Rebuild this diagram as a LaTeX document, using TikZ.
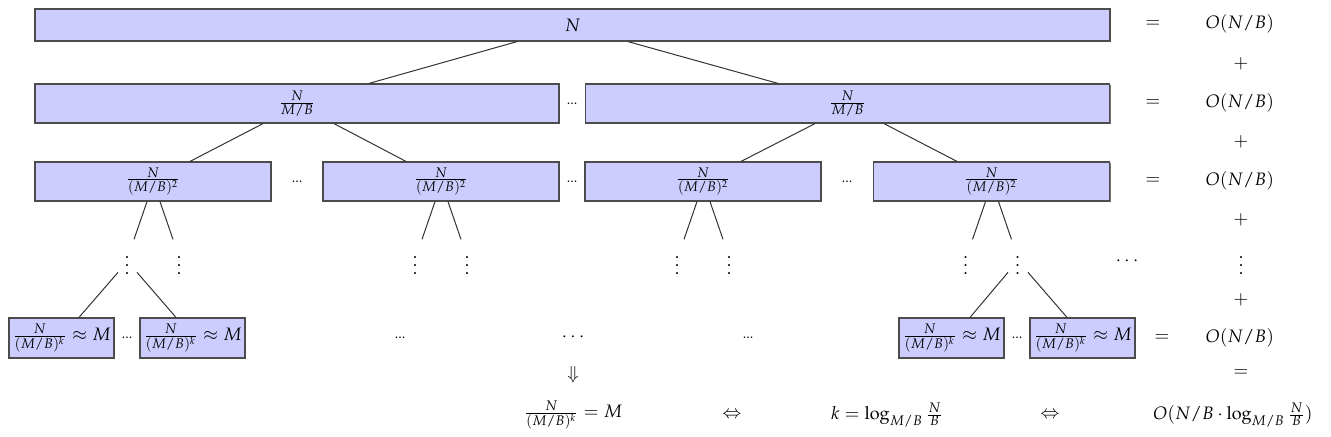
\documentclass[tikz,border=0pt]{standalone}
\usepackage[T1]{fontenc}
\usepackage{mathpazo}
\usepackage{tikz}
\usetikzlibrary{calc,shadows}

\begin{document}
\begin{tikzpicture}[x=0.5pt, y=-0.5pt,
  every node/.style={font=\fontsize{9}{11}\selectfont},
  box/.style={draw=black!70, fill=blue!20, line width=0.6pt, inner sep=0pt,
    drop shadow={shadow xshift=0.7pt, shadow yshift=-0.7pt, fill=black!55, opacity=1}},
  root/.style={box, minimum width=537.5pt, minimum height=16pt},
  mid/.style={box, minimum width=262pt, minimum height=19.5pt},
  sub/.style={box, minimum width=118pt, minimum height=19.5pt},
  leaf/.style={box, minimum width=52.5pt, minimum height=20pt},
  gap/.style={font=\scriptsize, inner sep=0pt},
  vd/.style={anchor=base, inner sep=0pt},
  edge/.style={draw=black!80, line width=0.5pt}]
\useasboundingbox (0,0) rectangle (1331,436);
% tree levels
\node[root] (top) at (572.5,25) {$N$};
\node[mid] (l1) at (297,103.5) {$\frac{N}{M/B}$};
\node[mid] (r1) at (847.5,103.5) {$\frac{N}{M/B}$};
\node[gap] (g0) at (572,103.5) {...};
\node[sub] (b1) at (153,181.5) {$\frac{N}{(M/B)^2}$};
\node[sub] (b2) at (441,181.5) {$\frac{N}{(M/B)^2}$};
\node[sub] (b3) at (703,181.5) {$\frac{N}{(M/B)^2}$};
\node[sub] (b4) at (991.5,181.5) {$\frac{N}{(M/B)^2}$};
\node[gap] (g1) at (297,181.5) {...};
\node[gap] (g2) at (572,181.5) {...};
\node[gap] (g3) at (847,181.5) {...};
\draw[edge] ($(top.south)+(-55.5,0)$) -- ($(l1.north)+(72,0)$);
\draw[edge] ($(top.south)+(55.5,0)$) -- ($(r1.north)+(-69.5,0)$);
\draw[edge] ($(l1.south)+(-34,0)$) -- ($(b1.north)+(37,0)$);
\draw[edge] ($(l1.south)+(37,0)$) -- ($(b2.north)+(-35,0)$);
\draw[edge] ($(r1.south)+(-32.5,0)$) -- ($(b3.north)+(38,0)$);
\draw[edge] ($(r1.south)+(36.5,0)$) -- ($(b4.north)+(-34.5,0)$);
\foreach \i in {1,...,4} {
  \node[vd] (dl\i) at ($(b\i.south)+(-26,72.75)$) {$\vdots$};
  \node[vd] (dr\i) at ($(b\i.south)+(26,72.75)$) {$\vdots$};
  \draw[edge] ($(b\i.south)+(-6,0)$) -- ($(dl\i.base)+(7,-35)$);
  \draw[edge] ($(b\i.south)+(7,0)$) -- ($(dr\i.base)+(-6,-35)$);
}
\node (cd1) at (1127,261) {$\cdots$};
% leaves
\node[leaf] (a1) at (61.5,338) {$\frac{N}{(M/B)^k}\approx M$};
\node[leaf] (a2) at (192.5,338) {$\frac{N}{(M/B)^k}\approx M$};
\node[leaf] (c1) at (951.5,338) {$\frac{N}{(M/B)^k}\approx M$};
\node[leaf] (c2) at (1082.5,338) {$\frac{N}{(M/B)^k}\approx M$};
\node[gap] (g4) at (127,338) {...};
\node[gap] (g5) at (1017,338) {...};
\node[gap] (g6) at (400,338) {...};
\node[gap] (g7) at (748,338) {...};
\node (cd2) at (573,337) {$\cdots$};
\draw[edge] ($(dl1.base)+(-9,-2)$) -- ($(a1.north)+(17.5,0)$);
\draw[edge] ($(dl1.base)+(10,-2)$) -- ($(a2.north)+(-16.5,0)$);
\draw[edge] ($(dr4.base)+(-9.5,-2)$) -- ($(c1.north)+(18.5,0)$);
\draw[edge] ($(dr4.base)+(10.5,-2)$) -- ($(c2.north)+(-15.5,0)$);
% cost column
\node (e0) at (1153,24) {$=$};
\node (e1) at (1153,103) {$=$};
\node (e2) at (1153,181) {$=$};
\node (e4) at (1162,338) {$=$};
\node (o0) at (1240,24) {$O(N/B)$};
\node (o1) at (1240,103) {$O(N/B)$};
\node (o2) at (1240,181) {$O(N/B)$};
\node (o4) at (1240,338) {$O(N/B)$};
\node (p0) at (1241,64) {$+$};
\node (p1) at (1241,142) {$+$};
\node (p2) at (1241,220) {$+$};
\node (p3) at (1241,300) {$+$};
\node[vd] (ov) at (1241,274) {$\vdots$};
\node (ot) at (1241,373) {$=$};
% conclusion
\node (dn) at (573,375) {$\Downarrow$};
\node (f1) at (573,415) {$\frac{N}{(M/B)^k} = M$};
\node (iff1) at (732,415) {$\Leftrightarrow$};
\node (f2) at (887,415) {$k = \log_{M/B}\frac{N}{B}$};
\node (iff2) at (1050,415) {$\Leftrightarrow$};
\node (f3) at (1233,415) {$O(N/B\cdot\log_{M/B}\frac{N}{B})$};
\end{tikzpicture}
\end{document}
